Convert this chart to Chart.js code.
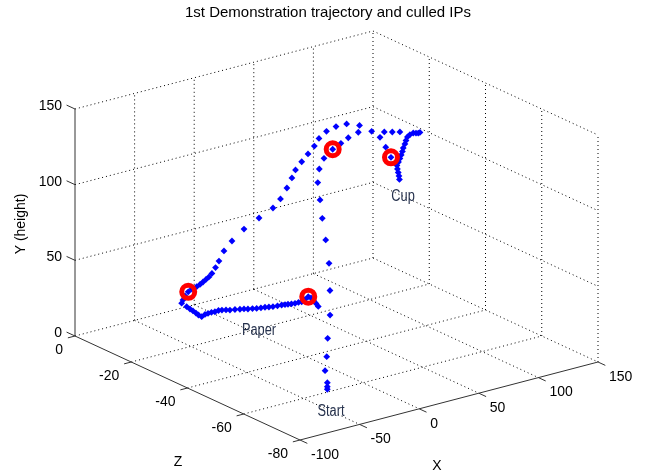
<!DOCTYPE html>
<html>
<head>
<meta charset="utf-8">
<script src="https://cdn.jsdelivr.net/npm/chart.js@4.4.1/dist/chart.umd.min.js"></script>
<style>
  html, body { margin: 0; padding: 0; background: #fff; }
  #wrap { width: 645px; height: 476px; }
</style>
</head>
<body>
<div id="wrap"><canvas id="c" width="645" height="476"></canvas></div>
<script>
const TITLE = "1st Demonstration trajectory and culled IPs";

const X_TICKS = [-100, -50, 0, 50, 100, 150];
const Y_TICKS = [0, 50, 100, 150];
const Z_TICKS = [0, -20, -40, -60, -80];

// trajectory samples (X, Y height, Z)
const trajX = [
  -29.9, -29.9, -27.5, -24.7, -18.6, -13.1, -4.0, 3.0, 9.3, 13.6, 17.8, 23.0, 25.8, 31.8,
  38.1, 45.4, 52.3, 58.5, 66.9,
  78.1, 85.1, 89.9, 94.3, 88.7, 95.4, 101.8,
  118.6, 117.2, 115.3, 113.0, 110.2, 108.1, 106.9, 106.0, 104.6, 103.9, 102.9, 101.8, 100.6, 99.3, 99.7, 100.4, 101.0, 101.4,
  67.9, 57.1, 48.2, 40.2, 33.9, 30.0, 24.7, 19.4, 14.2, 11.2, 7.0, 1.6, -4.7, -16.4, -29.0, -39.1,
  -45.8, -50.0, -52.9, -55.9, -58.4, -60.9, -63.4, -65.9, -68.7, -72.7, -75.8, -78.5, -80.2,
  -81.3, -77.1, -74.3, -71.8, -69.3, -67.2, -64.5, -61.7, -59.2, -56.3, -53.4, -50.4, -47.5, -44.1,
  -40.8, -36.6, -32.4, -29.0, -25.7, -21.9, -18.4, -14.8, -11.4, -8.1, -4.7, -0.9, 2.6, 5.4, 7.9,
  10.8, 13.8, 16.7, 19.4, 22.1, 24.9, 27.2, 29.1, 31.4, 33.3
];
const trajY = [
  1.9, 3.6, 4.9, 10.5, 16.8, 26.1, 37.0, 49.2, 63.3, 75.3, 86.1, 94.6, 103.8, 109.8,
  114.7, 119.2, 121.7, 124.1, 126.0,
  124.3, 118.9, 111.4, 103.8, 121.7, 120.3, 119.0,
  115.2, 115.1, 115.5, 116.0, 115.5, 114.4, 112.3, 110.2, 107.9, 105.7, 103.6, 101.5, 99.4, 97.4, 95.0, 92.5, 90.1, 87.7,
  130.3, 133.5, 133.6, 132.1, 128.7, 124.5, 120.4, 116.3, 112.0, 107.3, 101.5, 95.4, 90.7, 86.5, 81.8, 76.0,
  70.8, 65.0, 61.3, 58.0, 56.2, 55.1, 53.9, 52.8, 51.9, 51.2, 50.0, 47.8, 45.5,
  43.6, 40.4, 38.3, 36.5, 34.6, 32.9, 31.2, 32.1, 32.3, 32.4, 32.2, 32.4, 32.1, 31.5,
  30.7, 30.2, 29.5, 29.0, 28.3, 27.8, 27.2, 26.8, 26.5, 26.0, 25.5, 25.3, 25.1, 24.8, 24.5,
  24.2, 23.9, 23.9, 23.8, 24.7, 26.0, 24.7, 22.6, 20.2, 17.8
];
const trajZ = [
  -60, -60, -59, -57, -55, -53, -50, -47, -44, -41, -38, -35, -33, -31,
  -30, -30, -30, -30, -30,
  -30, -30, -30, -30, -30, -30, -30,
  -30, -30, -30, -30, -30, -30, -30, -30, -30, -30, -30, -30, -30, -30, -30, -30, -30, -30,
  -30, -30, -30, -30, -30, -30, -30, -30, -30, -30, -30, -30, -30, -30, -30, -30,
  -30, -30, -30, -30, -30, -30, -30, -30, -30, -30, -30, -30, -30,
  -30, -30, -30, -30, -30, -30, -30, -30, -30, -30, -30, -30, -30, -30,
  -30, -30, -30, -30, -30, -30, -30, -30, -30, -30, -30, -30, -30, -30, -30,
  -30, -30, -30, -30, -30, -30, -30, -30, -30, -30
];

// culled IPs
const ipX = [-75.8, 24.9, 45.4, 94.3];
const ipY = [50.0, 26.0, 119.2, 103.8];
const ipZ = [-30, -30, -30, -30];

// text annotations
const noteText = ["Start", "Paper", "Cup"];
const noteX = [-38.6, -16.4, 104.4];
const noteY = [-7.1, 11.8, 75.5];
const noteZ = [-65, -30, -30];

const X_MIN = -100, X_MAX = 150, Y_MAX = 150, Z_MIN = -80, Z_MAX = 0;

// 3d view -> page units (corner X_MIN/Y=0/Z_MAX sits at 75,336)
function project(x, y, z) {
  const a = x - X_MIN, b = Z_MAX - z;
  return { x: 75 + 1.192 * a + 2.8125 * b, y: 336 - 0.312 * a + 1.3 * b - 1.5133 * y };
}

function seg(list, p, q) {
  list.push(project(p[0], p[1], p[2]), project(q[0], q[1], q[2]), { x: null, y: null });
}

const grid = [];
Y_TICKS.slice(1).forEach((y) => {
  seg(grid, [X_MIN, y, Z_MAX], [X_MAX, y, Z_MAX]);
  seg(grid, [X_MAX, y, Z_MAX], [X_MAX, y, Z_MIN]);
});
X_TICKS.slice(1).forEach((x) => {
  seg(grid, [x, 0, Z_MAX], [x, Y_MAX, Z_MAX]);
  seg(grid, [x, 0, Z_MAX], [x, 0, Z_MIN]);
});
Z_TICKS.slice(1).forEach((z) => {
  seg(grid, [X_MAX, 0, z], [X_MAX, Y_MAX, z]);
  if (z !== Z_MIN) seg(grid, [X_MIN, 0, z], [X_MAX, 0, z]);
});
seg(grid, [X_MIN, 0, Z_MAX], [X_MAX, 0, Z_MAX]);

const axes = [];
seg(axes, [X_MIN, 0, Z_MAX], [X_MIN, Y_MAX, Z_MAX]);
seg(axes, [X_MIN, 0, Z_MAX], [X_MIN, 0, Z_MIN]);
seg(axes, [X_MIN, 0, Z_MIN], [X_MAX, 0, Z_MIN]);
Y_TICKS.forEach((y) => seg(axes, [X_MIN, y, Z_MAX], [X_MIN, y, Z_MAX + 3]));
Z_TICKS.forEach((z) => seg(axes, [X_MIN, 0, z], [X_MIN - 6, 0, z]));
X_TICKS.forEach((x) => seg(axes, [x, 0, Z_MIN], [x, 0, Z_MIN - 2.6]));

const traj = trajX.map((x, i) => project(x, trajY[i], trajZ[i]));
const ips = ipX.map((x, i) => project(x, ipY[i], ipZ[i]));

const FONT = '"Liberation Sans", Arial, sans-serif';

const textPlugin = {
  id: "texts",
  afterDraw(chart) {
    const { ctx } = chart;
    const sx = chart.scales.x, sy = chart.scales.y;
    const px = (p) => ({ x: sx.getPixelForValue(p.x), y: sy.getPixelForValue(p.y) });
    ctx.save();
    ctx.fillStyle = "#000";
    ctx.textBaseline = "middle";

    ctx.font = "15px " + FONT;
    ctx.textAlign = "center";
    ctx.fillText(TITLE, 328, 13);

    ctx.font = "14px " + FONT;
    ctx.textAlign = "right";
    Y_TICKS.forEach((v) => {
      const p = px(project(X_MIN, v, Z_MAX));
      ctx.fillText(String(v), p.x - 13, p.y - 3);
    });
    Z_TICKS.forEach((v) => {
      const p = px(project(X_MIN, 0, v));
      ctx.fillText(String(v), p.x - 12, p.y + 14.5);
    });
    ctx.textAlign = "left";
    X_TICKS.forEach((v) => {
      const p = px(project(v, 0, Z_MIN));
      ctx.fillText(String(v), p.x + 11, p.y + 15);
    });

    ctx.textAlign = "center";
    ctx.fillText("Z", 178, 462);
    ctx.fillText("X", 437, 466);
    ctx.save();
    ctx.translate(21, 224);
    ctx.rotate(-Math.PI / 2);
    ctx.fillText("Y (height)", 0, 0);
    ctx.restore();

    ctx.fillStyle = "#26324d";
    ctx.font = "16px " + FONT;
    noteText.forEach((t, i) => {
      const p = px(project(noteX[i], noteY[i], noteZ[i]));
      ctx.save();
      ctx.translate(p.x, p.y);
      ctx.scale(0.8, 1);
      ctx.fillText(t, 0, 0);
      ctx.restore();
    });
    ctx.restore();
  },
};

new Chart(document.getElementById("c"), {
  type: "scatter",
  data: {
    datasets: [
      {
        data: ips,
        pointStyle: "circle",
        pointRadius: 6.5,
        pointBorderWidth: 5,
        pointBorderColor: "#ff0000",
        pointBackgroundColor: "rgba(0,0,0,0)",
        order: 1,
      },
      {
        data: traj,
        pointStyle: "rectRot",
        pointRadius: 3.4,
        pointBorderWidth: 0,
        pointBorderColor: "#0000ff",
        pointBackgroundColor: "#0000ff",
        order: 2,
      },
      {
        data: axes,
        showLine: true,
        borderColor: "#333",
        borderWidth: 1,
        pointRadius: 0,
        order: 3,
      },
      {
        data: grid,
        showLine: true,
        borderColor: "#000",
        borderWidth: 1,
        borderDash: [1, 3],
        pointRadius: 0,
        order: 4,
      },
    ],
  },
  options: {
    responsive: false,
    animation: false,
    events: [],
    layout: { padding: 0, autoPadding: false },
    plugins: { legend: { display: false }, tooltip: { enabled: false } },
    scales: {
      x: { type: "linear", min: 0, max: 645, display: false },
      y: { type: "linear", min: 0, max: 476, reverse: true, display: false },
    },
  },
  plugins: [textPlugin],
});
</script>
</body>
</html>
